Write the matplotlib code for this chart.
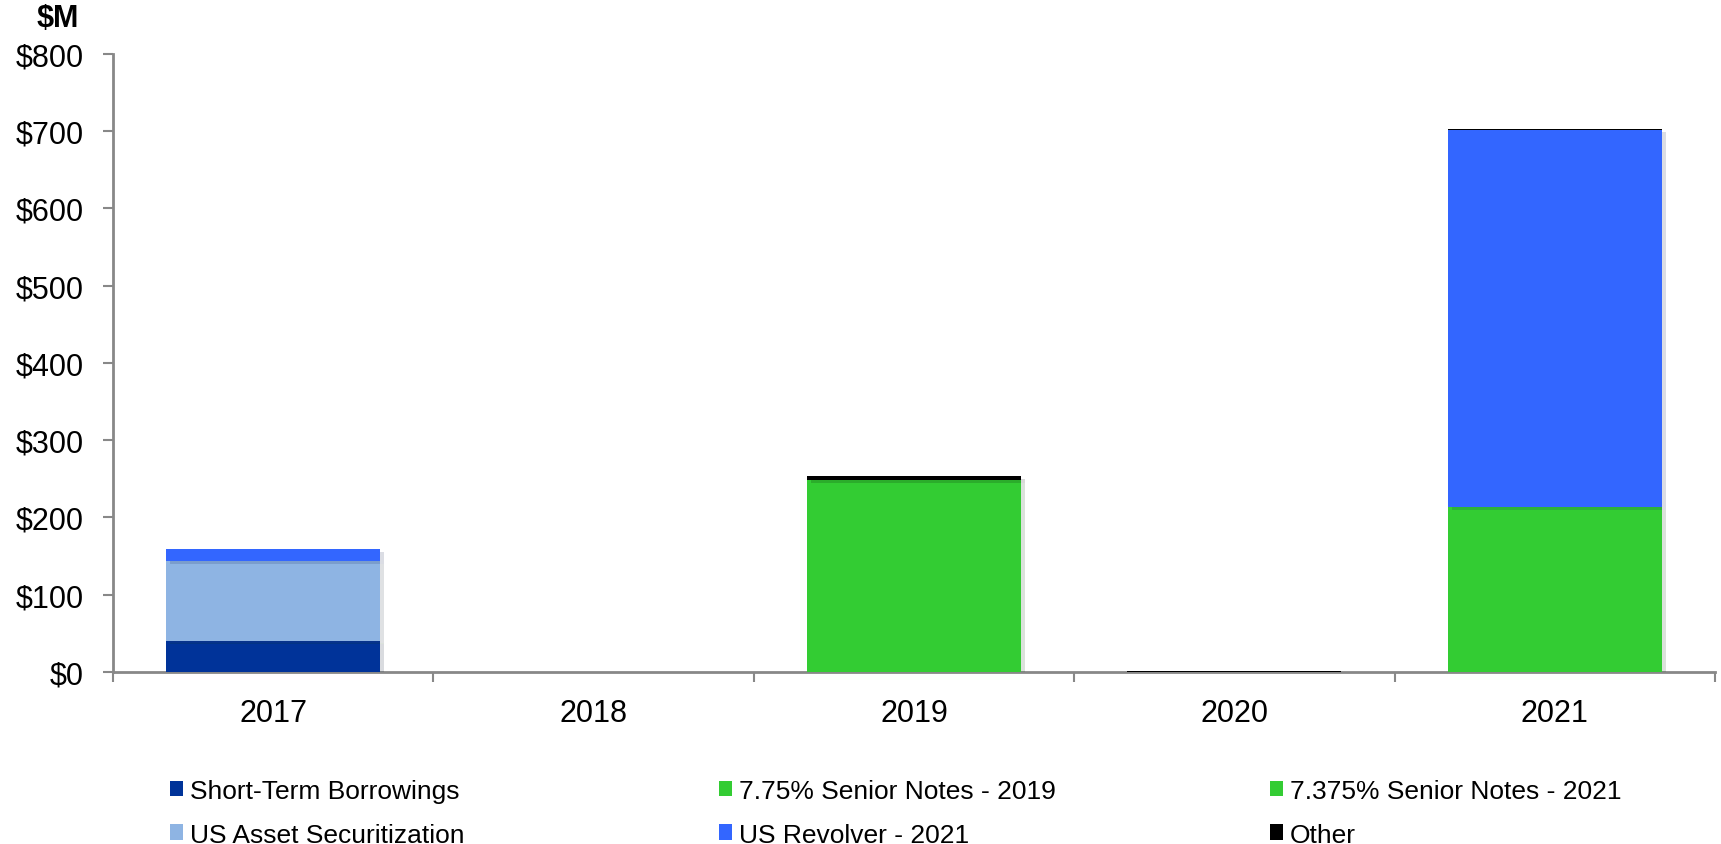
import matplotlib.pyplot as plt
import matplotlib.patheffects as pe
from matplotlib.patches import Patch
import numpy as np

plt.rcParams['font.family'] = ['Liberation Sans', 'DejaVu Sans']

years = ['2017', '2018', '2019', '2020', '2021']

# debt maturities by instrument, $M
short_term = [40, 0, 0, 0, 0]
notes_2019 = [0.6, 0, 248, 0, 0]
notes_2021 = [0, 0, 0, 0, 213]
us_asset_sec = [103, 0, 0, 0, 0]
us_revolver = [15, 0, 0, 0, 489]
other = [0, 0, 6, 1, 1]

series = [
    ('Short-Term Borrowings', short_term, '#003399'),
    ('7.75% Senior Notes - 2019', notes_2019, '#33CC33'),
    ('7.375% Senior Notes - 2021', notes_2021, '#33CC33'),
    ('US Asset Securitization', us_asset_sec, '#8EB4E3'),
    ('US Revolver - 2021', us_revolver, '#3366FF'),
    ('Other', other, '#000000'),
]

fig = plt.figure(figsize=(17.21, 8.45), dpi=100)
ax = fig.add_axes([0.0657, 0.2036, 0.9308, 0.7314])

x = np.arange(len(years))
bottom = np.zeros(len(years))
shadow = [pe.SimplePatchShadow(offset=(3, -2), alpha=0.15), pe.Normal()]
for name, vals, color in series:
    vals = np.array(vals, dtype=float)
    ax.bar(x, vals, width=0.668, bottom=bottom, color=color, linewidth=0,
           path_effects=shadow, zorder=3)
    bottom += vals

ax.set_xlim(-0.5, 4.5)
ax.set_ylim(0, 800)
ax.set_yticks(range(0, 801, 100))
ax.set_yticklabels([f'${v}' for v in range(0, 801, 100)], fontsize=22)
ax.set_xticks(x)
ax.set_xticklabels(years, fontsize=22)
ax.set_xticks(np.arange(-0.5, 5, 1), minor=True)
ax.tick_params(axis='x', which='major', length=0, pad=19)
ax.tick_params(axis='x', which='minor', length=7, width=1.5, color='#888888')
ax.tick_params(axis='y', length=7, width=1.5, color='#888888', pad=14)

for side in ['top', 'right']:
    ax.spines[side].set_visible(False)
for side in ['left', 'bottom']:
    ax.spines[side].set_color('#888888')
    ax.spines[side].set_linewidth(2)

fig.text(0.0337, 0.977, '$M', fontsize=22, fontweight='bold', ha='center', va='center')

# one legend per column, two rows each
columns = [[0, 3], [1, 4], [2, 5]]
col_x = [0.0988, 0.4178, 0.7379]
for idx, cx in zip(columns, col_x):
    handles = [Patch(facecolor=series[i][2], edgecolor='none') for i in idx]
    labels = [series[i][0] for i in idx]
    leg = fig.legend(handles, labels, loc='center left', bbox_to_anchor=(cx, 0.037),
                     frameon=False, fontsize=19, handlelength=0.5, handleheight=0.55,
                     handletextpad=0.25, labelspacing=0.75, borderpad=0,
                     borderaxespad=0)

fig.savefig('out.png', dpi=100)
